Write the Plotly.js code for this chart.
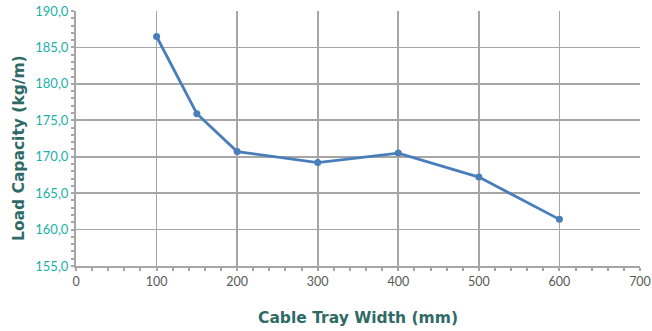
<!DOCTYPE html>
<html>
<head>
<meta charset="utf-8">
<script src="https://cdn.plot.ly/plotly-3.0.1.min.js"></script>
<style>html,body{margin:0;padding:0;background:#fff;}#chart{width:652px;height:331px;}</style>
</head>
<body>
<div id="chart"></div>
<script>
var widths = [100, 150, 200, 300, 400, 500, 600];
var loadCapacity = [186.5, 175.9, 170.7, 169.2, 170.5, 167.2, 161.4];
var xTitle = 'Cable Tray Width (mm)';
var yTitle = 'Load Capacity (kg/m)';

var trace = {
  x: widths, y: loadCapacity, type: 'scatter', mode: 'lines+markers',
  line: {color: '#4a7ebb', width: 2.8},
  marker: {color: '#4a7ebb', size: 7}
};
var gridC = '#a6a6a6';
var titleFont = {family: '"DejaVu Sans", sans-serif', size: 15.5, color: '#2f6b66', weight: 'bold'};
var layout = {
  width: 652, height: 331,
  margin: {l: 76, r: 12, t: 11, b: 65},
  paper_bgcolor: '#fff', plot_bgcolor: '#fff',
  separators: ', ',
  showlegend: false,
  font: {family: 'Lato, "DejaVu Sans", sans-serif'},
  xaxis: {
    range: [0, 700], dtick: 100, tick0: 0,
    showgrid: true, gridcolor: gridC, gridwidth: 1.6,
    showline: true, linecolor: gridC, linewidth: 2,
    ticks: 'outside', ticklen: 3, tickcolor: gridC, tickwidth: 2,
    minor: {dtick: 20, ticks: 'outside', ticklen: 3, tickcolor: gridC, tickwidth: 2, showgrid: false},
    tickfont: {size: 12.5, color: '#595959'},
    zeroline: false,
    title: {text: xTitle, font: titleFont, standoff: 24}
  },
  yaxis: {
    range: [155, 190], dtick: 5, tick0: 155, tickformat: '.1f',
    showgrid: true, gridcolor: gridC, gridwidth: 1.6,
    showline: true, linecolor: gridC, linewidth: 2,
    ticks: 'outside', ticklen: 3, tickcolor: gridC, tickwidth: 2,
    minor: {dtick: 1, ticks: 'outside', ticklen: 3, tickcolor: gridC, tickwidth: 2, showgrid: false},
    tickfont: {size: 13, color: '#1cb0aa'},
    zeroline: false
  },
  annotations: [{
    text: yTitle, textangle: -90, showarrow: false,
    xref: 'paper', yref: 'paper', x: -0.101, y: 0.463,
    xanchor: 'center', yanchor: 'middle',
    font: titleFont
  }]
};
Plotly.newPlot('chart', [trace], layout, {displayModeBar: false, staticPlot: true});
</script>
</body>
</html>
